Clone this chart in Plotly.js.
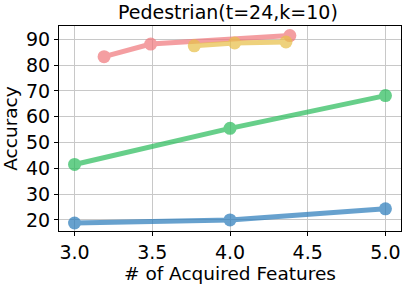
<!DOCTYPE html>
<html><head><meta charset="utf-8">
<script src="https://cdn.plot.ly/plotly-3.0.1.min.js"></script>
<style>html,body{margin:0;padding:0;background:#fff}#c{width:407px;height:285px}</style>
</head><body><div id="c"></div>
<script>
const blueX = [3, 4, 5];
const blueY = [18.8, 20.0, 24.3];
const greenX = [3, 4, 5];
const greenY = [41.5, 55.5, 68.2];
const redX = [3.19, 3.49, 4.385];
const redY = [83.3, 88.2, 91.5];
const yellowX = [3.77, 4.03, 4.36];
const yellowY = [87.5, 88.6, 89.0];
const xTicks = [3.0, 3.5, 4.0, 4.5, 5.0];
const xTickText = ["3.0", "3.5", "4.0", "4.5", "5.0"];
const yTicks = [20, 30, 40, 50, 60, 70, 80, 90];

function tr(x, y, color) {
  return {x: x, y: y, mode: 'lines+markers', type: 'scatter', opacity: 0.72,
    line: {color: color, width: 5}, marker: {color: color, size: 13}, showlegend: false};
}
const data = [
  tr(blueX, blueY, '#2e7ebc'),
  tr(greenX, greenY, '#2ebd5e'),
  tr(redX, redY, '#f07a7e'),
  tr(yellowX, yellowY, '#e8c04a')
];
const font = {family: 'DejaVu Sans', color: '#000'};
const layout = {
  width: 407, height: 285,
  margin: {l: 59, r: 6, t: 26, b: 54},
  paper_bgcolor: '#fff', plot_bgcolor: '#fff',
  font: font,
  title: {text: 'Pedestrian(t=24,k=10)', font: {family: 'DejaVu Sans', size: 19, color: '#000'}, x: 0.56, xanchor: 'center', y: 0.955, yanchor: 'middle'},
  xaxis: {range: [2.9, 5.1], tickvals: xTicks, ticktext: xTickText,
    showgrid: true, gridcolor: '#c8c8c8', gridwidth: 1,
    showline: true, linecolor: '#000', linewidth: 1, mirror: true,
    ticks: 'outside', ticklen: 4, tickcolor: '#000', zeroline: false,
    tickfont: {family: 'DejaVu Sans', size: 19, color: '#000'},
    title: {text: '# of Acquired Features', font: {family: 'DejaVu Sans', size: 18.5, color: '#000'}, standoff: 4}},
  yaxis: {range: [15.7, 95.2], tickvals: yTicks,
    showgrid: true, gridcolor: '#c8c8c8', gridwidth: 1,
    showline: true, linecolor: '#000', linewidth: 1, mirror: true,
    ticks: 'outside', ticklen: 4, tickcolor: '#000', zeroline: false,
    tickfont: {family: 'DejaVu Sans', size: 19, color: '#000'},
    title: {text: 'Accuracy', font: {family: 'DejaVu Sans', size: 18.5, color: '#000'}, standoff: 4}}
};
Plotly.newPlot('c', data, layout, {displayModeBar: false, staticPlot: true});
</script></body></html>
